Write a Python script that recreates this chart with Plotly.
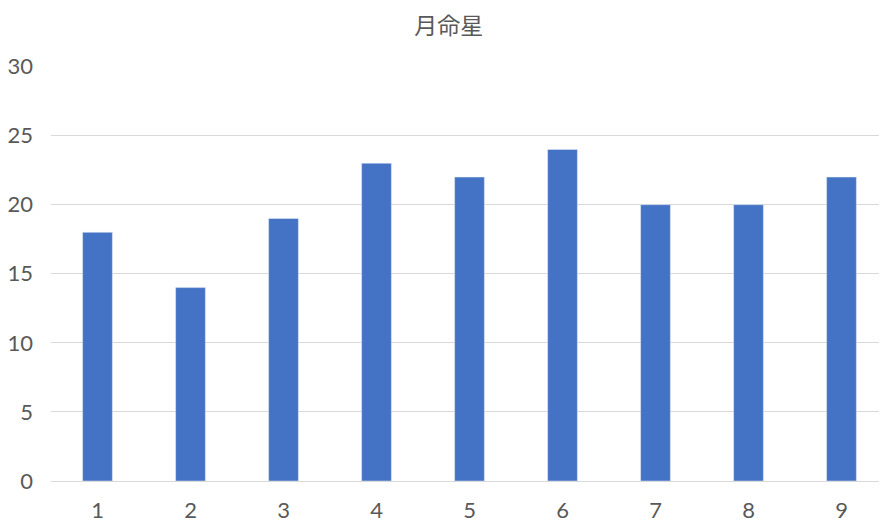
import plotly.graph_objects as go

# 月命星 counts
stars = ["1", "2", "3", "4", "5", "6", "7", "8", "9"]
counts = [18, 14, 19, 23, 22, 24, 20, 20, 22]

fig = go.Figure()
fig.add_trace(go.Bar(x=stars, y=counts, marker_color="#4472C4", width=0.32))

# page body adds an 8px offset, margins account for it
fig.update_layout(
    width=887, height=527,
    paper_bgcolor="white", plot_bgcolor="white",
    margin={"l": 43, "r": 7, "t": 58, "b": 54},
    title={"text": "月命星", "x": 0.497, "xanchor": "center", "y": 1 - 18 / 527,
           "yref": "container", "yanchor": "middle",
           "font": {"family": "Noto Sans CJK JP", "size": 23, "color": "#595959"}},
    font={"family": "Lato", "size": 22, "color": "#595959"},
    showlegend=False,
    bargap=0.68,
)
fig.update_xaxes(showgrid=False, showline=False, ticks="", ticklabelstandoff=14,
                 automargin=False)
fig.update_yaxes(range=[0, 30.04], tickvals=[0, 5, 10, 15, 20, 25, 30],
                 gridcolor="#d9d9d9", gridwidth=1,
                 zeroline=True, zerolinecolor="#d9d9d9", zerolinewidth=1,
                 showline=False, ticks="", ticklabelstandoff=17, automargin=False)

fig.write_html("out.html")
